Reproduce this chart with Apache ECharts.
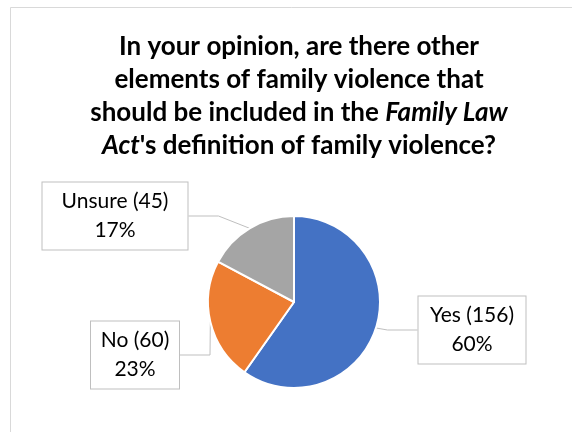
<!DOCTYPE html>
<html>
<head>
<meta charset="utf-8">
<script src="https://cdn.jsdelivr.net/npm/echarts@6/dist/echarts.min.js"></script>
<style>
  html, body { margin: 0; padding: 0; background: #fff; }
  #chart { width: 572px; height: 432px; }
</style>
</head>
<body>
<div id="chart"></div>
<script>
// answers and respondent counts
const categories = ['Yes', 'No', 'Unsure'];
const counts = [156, 60, 45];
const colors = ['#4472C4', '#ED7D31', '#A5A5A5'];

// callout box centre and text width, by answer
const calloutPos = {
  Yes: [472, 330],
  No: [135, 355],
  Unsure: [115, 216]
};
const calloutWidth = { Yes: 91, No: 72, Unsure: 129 };

const chart = echarts.init(document.getElementById('chart'));

const titleText = [
  '{b|In your opinion, are there other}',
  '{b|elements of family violence that}',
  '{b|should be included in the }{i|Family Law}',
  '{i|Act}{b|\'s definition of family violence?}'
].join('\n');

const option = {
  backgroundColor: '#fff',
  color: colors,
  animation: false,
  graphic: [{
    type: 'rect',
    shape: { x: 10.5, y: 7.5, width: 620, height: 500 },
    style: { fill: 'none', stroke: '#D9D9D9', lineWidth: 1 },
    silent: true
  }],
  title: {
    text: titleText,
    left: 294,
    textAlign: 'center',
    top: 25,
    textStyle: {
      fontFamily: 'Lato',
      fontSize: 26,
      lineHeight: 33,
      color: '#000',
      rich: {
        b: { fontFamily: 'Lato', fontSize: 26, fontWeight: 'bold', color: '#000', lineHeight: 33 },
        i: { fontFamily: 'Lato', fontSize: 26, fontWeight: 'bold', fontStyle: 'italic', color: '#000', lineHeight: 33 }
      }
    }
  },
  series: [{
    type: 'pie',
    center: [294, 302],
    radius: 86,
    startAngle: 90,
    percentPrecision: 0,
    itemStyle: { borderColor: '#fff', borderWidth: 2 },
    label: {
      show: true,
      formatter: '{b} ({c})\n{d}%',
      fontFamily: 'Lato',
      fontSize: 21,
      lineHeight: 29,
      color: '#000',
      align: 'center',
      backgroundColor: '#fff',
      borderColor: '#BFBFBF',
      borderWidth: 1,
      padding: [4, 8],
      height: 59
    },
    labelLine: {
      show: true,
      lineStyle: { color: '#BFBFBF', width: 1 }
    },
    labelLayout: function (params) {
      const p = calloutPos[categories[params.dataIndex]];
      return { x: p[0], y: p[1], align: 'center', verticalAlign: 'middle' };
    },
    data: categories.map((c, i) => ({
      name: c,
      value: counts[i],
      label: { width: calloutWidth[c] }
    }))
  }]
};

chart.setOption(option);
</script>
</body>
</html>
